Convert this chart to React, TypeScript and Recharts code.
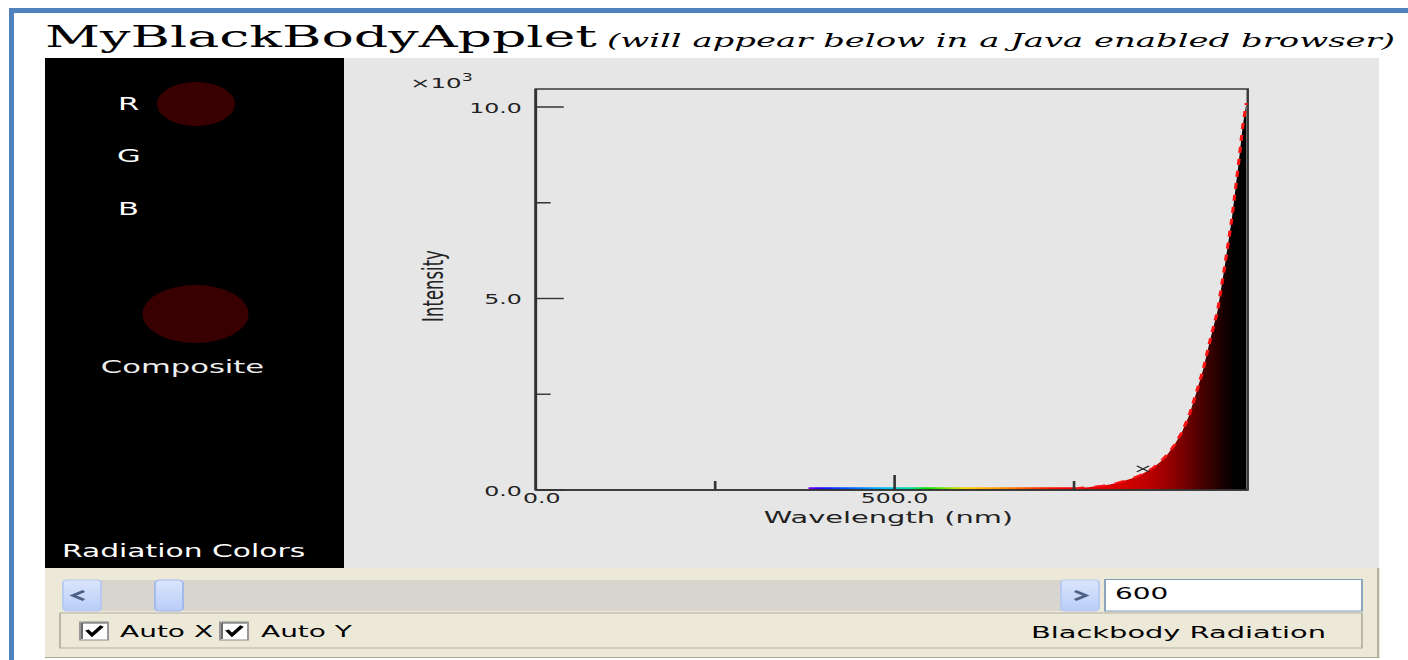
import React from 'react';
import { ComposedChart, Area, Line, XAxis, YAxis, ReferenceArea, ReferenceDot } from 'recharts';

// the reference screenshot is stretched sideways, so we lay out in narrow units and scale
const STRETCH = 1.75;
const sx = (v: number) => v / STRETCH;

// wavelength (nm)
const wavelengths = [
  0, 100, 200, 300, 380, 450, 500, 550, 600, 650, 700, 750,
  760, 770, 780, 790, 800, 810, 820, 830, 840, 850, 860, 870, 880, 890,
  900, 910, 920, 930, 940, 950, 960, 970, 980, 985, 990,
];
// intensity (x10^3)
const intensity = [
  0, 0, 0, 0, 0, 0, 0, 0, 0.001, 0.004, 0.015, 0.045,
  0.06, 0.075, 0.095, 0.115, 0.145, 0.19, 0.24, 0.3, 0.37, 0.47, 0.58, 0.73, 0.93, 1.18,
  1.5, 1.93, 2.52, 3.15, 3.95, 4.68, 5.85, 7.1, 8.65, 9.5, 10.1,
];
// thin visible-spectrum strip along the axis
const visibleBand = [
  null, null, null, null, 0.07, 0.07, 0.07, 0.07, 0.07, 0.07, 0.07, 0.07,
  null, null, null, null, null, null, null, null, null, null, null, null, null, null,
  null, null, null, null, null, null, null, null, null, null, null,
];

const xTicks = [0, 250, 500, 750];
const xLabelled = [0, 500];
const yTicks = [0, 2.5, 5, 7.5, 10];
const yMajor = [0, 5, 10];
const X_MAX = 992;
const Y_MAX = 10.47;
const marker = { wavelength: 846, intensity: 0.55 };

const irStops = [
  { nm: 0, color: '#f00000' },
  { nm: 750, color: '#f00000' },
  { nm: 800, color: '#e00000' },
  { nm: 850, color: '#c00000' },
  { nm: 880, color: '#9a0000' },
  { nm: 905, color: '#720000' },
  { nm: 930, color: '#460000' },
  { nm: 950, color: '#260000' },
  { nm: 966, color: '#0c0000' },
  { nm: 975, color: '#000000' },
  { nm: 990, color: '#000000' },
];

const spectrumStops = [
  { nm: 380, color: '#8a00ff' },
  { nm: 395, color: '#2000ff' },
  { nm: 430, color: '#0050ff' },
  { nm: 480, color: '#00b0ff' },
  { nm: 520, color: '#00e0a0' },
  { nm: 545, color: '#00e000' },
  { nm: 580, color: '#a8e000' },
  { nm: 600, color: '#ffd000' },
  { nm: 640, color: '#ffa000' },
  { nm: 680, color: '#ff5a00' },
  { nm: 715, color: '#ff1400' },
  { nm: 750, color: '#ff0000' },
];

const data = wavelengths.map((w, i) => ({
  wavelength: w,
  intensity: intensity[i],
  edge: w >= 750 ? intensity[i] : null,
  band: visibleBand[i],
}));

const SANS = '"DejaVu Sans", sans-serif';
const Y_TICK_GAP = sx(14);

function YTick(props: any) {
  const { x, y, payload } = props;
  const v = payload.value as number;
  const axisX = x + Y_TICK_GAP;
  const major = yMajor.includes(v);
  return (
    <g>
      <line x1={axisX} x2={axisX + (major ? 16 : 8.5)} y1={y} y2={y} stroke="#333" strokeWidth={1.4} />
      {major && (
        <text x={x} y={y + 1} textAnchor="end" dominantBaseline="central" fontSize={13.5} fill="#222" fontFamily={SANS}>
          {v.toFixed(1)}
        </text>
      )}
    </g>
  );
}

function XTick(props: any) {
  const { x, y, payload } = props;
  const v = payload.value as number;
  const major = v % 500 === 0;
  return (
    <g>
      {v !== 0 && (
        <line x1={x} x2={x} y1={y} y2={y - (major ? 15 : 9)} stroke="#333" strokeWidth={1.5} />
      )}
      {xLabelled.includes(v) && (
        <text
          x={x + (v === 0 ? 3.5 : 0)}
          y={y + 8.5}
          textAnchor="middle"
          dominantBaseline="central"
          fontSize={13.5}
          fill="#222"
          fontFamily={SANS}
        >
          {v.toFixed(1)}
        </text>
      )}
    </g>
  );
}

function CheckBox({ x }: { x: number }) {
  return (
    <g>
      <rect x={sx(x)} y={622} width={sx(28)} height={18} fill="#fff" stroke="#8a8a8a" strokeWidth={1} />
      <path d={`M${sx(x + 2)},${623} H${sx(x + 27)} M${sx(x + 2)},${623} V${639}`} stroke="#555" strokeWidth={1} />
      <polyline
        points={`${sx(x + 7)},${630} ${sx(x + 12)},${635} ${sx(x + 22)},${626}`}
        fill="none"
        stroke="#000"
        strokeWidth={2.4}
      />
    </g>
  );
}

function Background() {
  const W = sx(1408);
  return (
    <svg width={W} height={660} style={{ position: 'absolute', left: 0, top: 0 }}>
      <defs>
        <linearGradient id="btnGrad" x1="0" y1="0" x2="0" y2="1">
          <stop offset="0%" stopColor="#dbe6fd" />
          <stop offset="100%" stopColor="#b9ccf6" />
        </linearGradient>
      </defs>
      {/* blue page frame */}
      <rect x={sx(9)} y={8} width={W} height={5} fill="#4f81bd" />
      <rect x={sx(9)} y={8} width={sx(5)} height={660} fill="#4f81bd" />

      {/* title */}
      <text x={sx(45)} y={47} fontFamily='"DejaVu Serif", serif' fontSize={30} fill="#000"
        textLength={sx(552)} lengthAdjust="spacingAndGlyphs">MyBlackBodyApplet</text>
      <text x={sx(607)} y={47} fontFamily='"DejaVu Serif", serif' fontStyle="italic" fontSize={19} fill="#000"
        textLength={sx(788)} lengthAdjust="spacingAndGlyphs">(will appear below in a Java enabled browser)</text>

      {/* applet panels */}
      <rect x={sx(45)} y={58} width={sx(1379 - 45)} height={510} fill="#e6e6e6" />
      <rect x={sx(45)} y={58} width={sx(344 - 45)} height={510} fill="#000" />

      {/* radiation colors panel */}
      <text x={sx(118)} y={110.5} fontFamily={SANS} fontSize={17.5} fill="#fff">R</text>
      <text x={sx(117)} y={162.5} fontFamily={SANS} fontSize={17.5} fill="#fff">G</text>
      <text x={sx(118)} y={215} fontFamily={SANS} fontSize={17.5} fill="#fff">B</text>
      <ellipse cx={sx(196)} cy={104} rx={sx(39)} ry={22} fill="#380000" />
      <ellipse cx={sx(195.5)} cy={314} rx={sx(53)} ry={29} fill="#380000" />
      <text x={sx(182.5)} y={373} textAnchor="middle" fontFamily={SANS} fontSize={17.5} fill="#eee">Composite</text>
      <text x={sx(62)} y={557} fontFamily={SANS} fontSize={17} fill="#fff">Radiation Colors</text>

      {/* axis labels */}
      <text x={sx(410)} y={88} fontFamily={SANS} fontSize={14} fill="#222">
        ×10<tspan fontSize={10} dy={-7}>3</tspan>
      </text>
      <text
        x={sx(433)}
        y={286}
        transform={`rotate(-90 ${sx(433)} 286)`}
        textAnchor="middle"
        dominantBaseline="central"
        fontFamily={SANS}
        fontSize={16.5}
        fill="#222"
      >
        Intensity
      </text>
      <text x={sx(888.5)} y={517} textAnchor="middle" dominantBaseline="central" fontFamily={SANS} fontSize={16.5} fill="#222">
        Wavelength (nm)
      </text>

      {/* control panel */}
      <rect x={sx(45)} y={568} width={sx(1380 - 45)} height={90} fill="#ece9d8" />
      <line x1={sx(1378)} x2={sx(1378)} y1={568} y2={658} stroke="#aca899" strokeWidth={1} />
      <line x1={sx(45)} x2={sx(1379)} y1={657.5} y2={657.5} stroke="#aca899" strokeWidth={1} />

      <rect x={sx(100)} y={580} width={sx(1062 - 100)} height={31} fill="#d8d5cf" />
      <rect x={sx(63)} y={580} width={sx(38)} height={31} rx={sx(4)} ry={3} fill="url(#btnGrad)" stroke="#b4c8f4" />
      <polyline points={`${sx(84)},${591} ${sx(73)},${595.5} ${sx(84)},${600}`} fill="none" stroke="#4d6185" strokeWidth={2.4} />
      <rect x={sx(155)} y={580} width={sx(28)} height={31} rx={sx(5)} ry={3} fill="url(#btnGrad)" stroke="#9fb7ee" />
      <rect x={sx(1061)} y={580} width={sx(38)} height={31} rx={sx(4)} ry={3} fill="url(#btnGrad)" stroke="#b4c8f4" />
      <polyline points={`${sx(1075)},${591} ${sx(1086)},${595.5} ${sx(1075)},${600}`} fill="none" stroke="#4d6185" strokeWidth={2.4} />

      <rect x={sx(1105)} y={579.5} width={sx(1362 - 1105)} height={31.5} fill="#fff" stroke="#7f9db9" strokeWidth={1} />
      <text x={sx(1115)} y={599} fontFamily={SANS} fontSize={16} fill="#000">600</text>

      <rect x={sx(60)} y={613} width={sx(1362 - 60)} height={35} fill="none" stroke="#b3b0a2" strokeWidth={1} />
      <CheckBox x={80} />
      <text x={sx(120)} y={637.5} fontFamily={SANS} fontSize={16} fill="#000">Auto X</text>
      <CheckBox x={220} />
      <text x={sx(261)} y={637.5} fontFamily={SANS} fontSize={16} fill="#000">Auto Y</text>
      <text x={sx(1031)} y={638.5} fontFamily={SANS} fontSize={16.5} fill="#000">Blackbody Radiation</text>
    </svg>
  );
}

const CHART_W = sx(1379 - 344);
const CHART_H = 510;
const YW = 40;
const XH = 40;

export default function App() {
  return (
    <div style={{ position: 'fixed', left: 0, top: 0, width: 1408, height: 660, background: '#fff', overflow: 'hidden' }}>
      <div
        style={{
          position: 'absolute',
          left: 0,
          top: 0,
          width: sx(1408),
          height: 660,
          transform: `scaleX(${STRETCH})`,
          transformOrigin: '0 0',
        }}
      >
        <Background />
        <div style={{ position: 'absolute', left: sx(344), top: 58, width: CHART_W, height: CHART_H }}>
          <ComposedChart
            width={CHART_W}
            height={CHART_H}
            data={data}
            margin={{ top: 31, right: sx(1379 - 1247), left: sx(535 - 344) - YW, bottom: 568 - 490 - XH }}
          >
            <defs>
              <linearGradient id="irGrad" x1="0" y1="0" x2="1" y2="0">
                {irStops.map((s) => (
                  <stop key={s.nm} offset={`${(s.nm / 990) * 100}%`} stopColor={s.color} />
                ))}
              </linearGradient>
              <linearGradient id="spectrumGrad" x1="0" y1="0" x2="1" y2="0">
                {spectrumStops.map((s) => (
                  <stop key={s.nm} offset={`${((s.nm - 380) / 370) * 100}%`} stopColor={s.color} />
                ))}
              </linearGradient>
            </defs>
            <XAxis
              dataKey="wavelength"
              type="number"
              domain={[0, X_MAX]}
              ticks={xTicks}
              height={XH}
              tickSize={0}
              tickMargin={0}
              tickLine={false}
              axisLine={{ stroke: '#333', strokeWidth: 1.6 }}
              tick={<XTick />}
            />
            <YAxis
              type="number"
              domain={[0, Y_MAX]}
              ticks={yTicks}
              width={YW}
              tickSize={0}
              tickMargin={Y_TICK_GAP}
              tickLine={false}
              axisLine={{ stroke: '#333', strokeWidth: 1.6 }}
              tick={<YTick />}
            />
            <Area
              type="linear"
              dataKey="band"
              fill="url(#spectrumGrad)"
              fillOpacity={1}
              stroke="none"
              isAnimationActive={false}
            />
            <Area
              type="linear"
              dataKey="intensity"
              fill="url(#irGrad)"
              fillOpacity={1}
              stroke="none"
              isAnimationActive={false}
            />
            <Line
              type="linear"
              dataKey="edge"
              stroke="#ff1414"
              strokeWidth={1.8}
              strokeDasharray="6 6"
              dot={false}
              activeDot={false}
              isAnimationActive={false}
            />
            <ReferenceArea
              x1={0}
              x2={X_MAX}
              y1={0}
              y2={Y_MAX}
              fill="none"
              stroke="#3a3a3a"
              strokeWidth={1.4}
              ifOverflow="visible"
            />
            <ReferenceDot
              x={marker.wavelength}
              y={marker.intensity}
              ifOverflow="visible"
              shape={(p: any) => (
                <path
                  d={`M${p.cx - 3.5},${p.cy - 3} L${p.cx + 3.5},${p.cy + 3} M${p.cx - 3.5},${p.cy + 3} L${p.cx + 3.5},${p.cy - 3}`}
                  stroke="#222"
                  strokeWidth={1}
                  fill="none"
                />
              )}
            />
          </ComposedChart>
        </div>
      </div>
    </div>
  );
}
